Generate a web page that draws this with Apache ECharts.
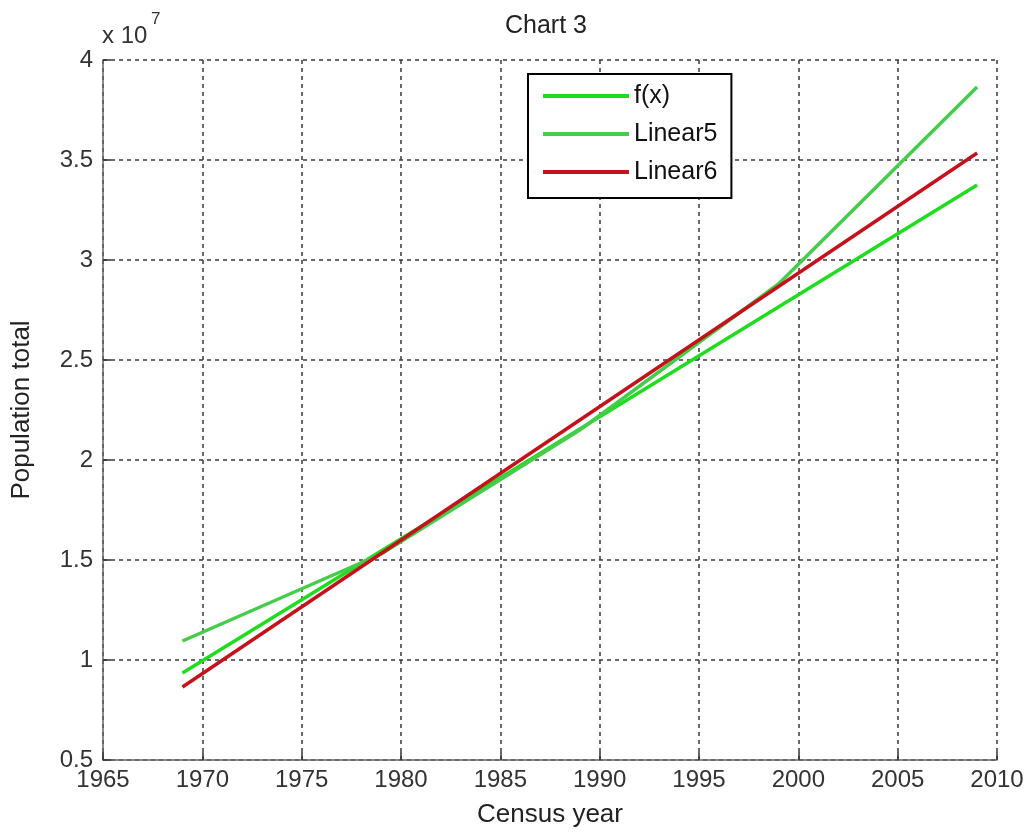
<!DOCTYPE html>
<html>
<head>
<meta charset="utf-8">
<title>Chart 3</title>
<script src="https://cdn.jsdelivr.net/npm/echarts@6/dist/echarts.min.js"></script>
<style>
  html, body { margin: 0; padding: 0; background: #fff; }
  #chart { width: 1027px; height: 835px; }
</style>
</head>
<body>
<div id="chart"></div>
<script>
// census years and population (x 10^7)
const years = [1969, 1979, 1989, 1999, 2009]
const population = [1.095, 1.53, 2.15, 2.88, 3.865]
// the two straight fits, end points only
const fitYears = [1969, 2009]
const fitF = [0.935, 3.375]
const fitLinear6 = [0.865, 3.535]

const FONT = "'Liberation Sans', Arial, sans-serif"

function pairs (xs, ys) {
  return xs.map((x, i) => [x, ys[i]])
}

const gridLine = { show: true, lineStyle: { color: '#3a3a3a', type: [4, 4], width: 1.5 } }

const option = {
  animation: false,
  backgroundColor: '#fff',
  grid: { left: 103, right: 30, top: 60, bottom: 75 },
  graphic: [
    { type: 'text', left: 505, top: 14, style: { text: 'Chart 3', font: '25px ' + FONT, fill: '#222' } },
    { type: 'text', left: 102, top: 24, style: { text: 'x 10', font: '24px ' + FONT, fill: '#333' } },
    { type: 'text', left: 151, top: 11, style: { text: '7', font: '17px ' + FONT, fill: '#333' } }
  ],
  legend: {
    orient: 'vertical',
    left: 528,
    top: 74,
    padding: [9, 14, 13, 15],
    itemWidth: 86,
    itemHeight: 4,
    itemGap: 12,
    borderColor: '#000',
    borderWidth: 2,
    backgroundColor: '#fff',
    textStyle: { fontFamily: FONT, fontSize: 25, color: '#111', lineHeight: 26 },
    data: [
      { name: 'f(x)', icon: 'rect' },
      { name: 'Linear5', icon: 'rect' },
      { name: 'Linear6', icon: 'rect' }
    ]
  },
  xAxis: {
    type: 'value',
    min: 1965,
    max: 2010,
    interval: 5,
    name: 'Census year',
    nameLocation: 'middle',
    nameGap: 42,
    nameTextStyle: { fontFamily: FONT, fontSize: 26, color: '#222' },
    axisLine: { show: true, onZero: false, lineStyle: { color: '#666', width: 1.5 } },
    axisTick: { show: true, inside: true, length: 8, lineStyle: { color: '#333', width: 1.5 } },
    axisLabel: { fontFamily: FONT, fontSize: 24, color: '#333', margin: 8, formatter: v => String(v) },
    splitLine: gridLine
  },
  yAxis: {
    type: 'value',
    min: 0.5,
    max: 4,
    interval: 0.5,
    name: 'Population total',
    nameLocation: 'middle',
    nameGap: 68,
    nameRotate: 90,
    nameTextStyle: { fontFamily: FONT, fontSize: 26, color: '#222' },
    axisLine: { show: true, onZero: false, lineStyle: { color: '#666', width: 1.5 } },
    axisTick: { show: true, inside: true, length: 8, lineStyle: { color: '#333', width: 1.5 } },
    axisLabel: { fontFamily: FONT, fontSize: 24, color: '#333', margin: 10 },
    splitLine: gridLine
  },
  series: [
    {
      name: 'f(x)',
      type: 'line',
      symbol: 'none',
      color: '#1fdc1f',
      lineStyle: { width: 3.5 },
      data: pairs(fitYears, fitF)
    },
    {
      name: 'Linear5',
      type: 'line',
      symbol: 'none',
      color: '#45cc4a',
      lineStyle: { width: 3.5 },
      data: pairs(years, population)
    },
    {
      name: 'Linear6',
      type: 'line',
      symbol: 'none',
      color: '#c4121c',
      lineStyle: { width: 3.5 },
      data: pairs(fitYears, fitLinear6)
    }
  ]
}

const chart = echarts.init(document.getElementById('chart'))
chart.setOption(option)
</script>
</body>
</html>
